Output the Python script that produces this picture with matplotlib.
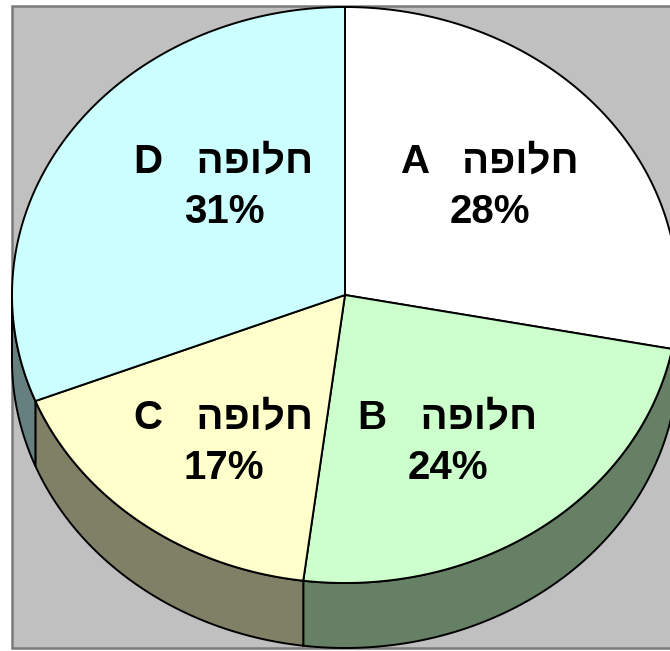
import numpy as np
import matplotlib
matplotlib.use("Agg")
import matplotlib.pyplot as plt
from matplotlib.patches import Polygon, Rectangle

# --------------------------------------------------------------------------- #
# Data
# --------------------------------------------------------------------------- #
letters = ["A", "B", "C", "D"]
values = [28, 24, 17, 31]
word = "חלופה"
top_colors = ["#ffffff", "#ccffcc", "#ffffcc", "#ccffff"]

# layout (pixels)
W, H = 670, 651
CX, CY = 345, 295
RX, RY = 333, 288
DEPTH = 65
label_xy = [(490, 187), (448, 443), (224, 443), (224, 187)]


def shade(c, f=0.5):
    rgb = np.array(matplotlib.colors.to_rgb(c))
    return tuple(rgb * f)


def arc(t0, t1, dy=0.0, n=120):
    t = np.radians(np.linspace(t0, t1, n))
    return np.column_stack([CX + RX * np.cos(t), CY - RY * np.sin(t) + dy])


fig = plt.figure(figsize=(W / 100, H / 100), dpi=100)
ax = fig.add_axes([0, 0, 1, 1])
ax.set_xlim(0, W)
ax.set_ylim(H, 0)
ax.axis("off")

ax.add_patch(Rectangle((12, 6), 700, 642, facecolor="#c0c0c0",
                       edgecolor="#7a7a7a", lw=1.8, zorder=0))

# slice angles: start at 12 o'clock, clockwise
fr = np.array(values, dtype=float) / sum(values)
bounds = 90 - 360 * np.concatenate([[0], np.cumsum(fr)])

# sides (visible lower half, t in [-180, 0])
for i in range(len(values)):
    t_start, t_end = bounds[i], bounds[i + 1]
    a, b = min(t_start, 0), max(t_end, -180)
    if a <= b:
        continue
    pts = np.vstack([arc(a, b), arc(b, a, DEPTH)])
    ax.add_patch(Polygon(pts, closed=True, facecolor=shade(top_colors[i]),
                         edgecolor="black", lw=1.4, zorder=1))

# top face
for i in range(len(values)):
    pts = np.vstack([[CX, CY], arc(bounds[i], bounds[i + 1])])
    ax.add_patch(Polygon(pts, closed=True, facecolor=top_colors[i],
                         edgecolor="black", lw=1.4, zorder=2, joinstyle="miter"))

# labels (matplotlib has no bidi, so the Hebrew word is given in visual order)
for i, (x, y) in enumerate(label_xy):
    txt = f"{letters[i]}   {word[::-1]}\n{values[i]}%"
    ax.text(x, y, txt, ha="center", va="center", fontsize=29, fontweight="bold",
            family=["Liberation Sans", "DejaVu Sans"], linespacing=1.4, zorder=3)

fig.savefig("out.png", dpi=100)
